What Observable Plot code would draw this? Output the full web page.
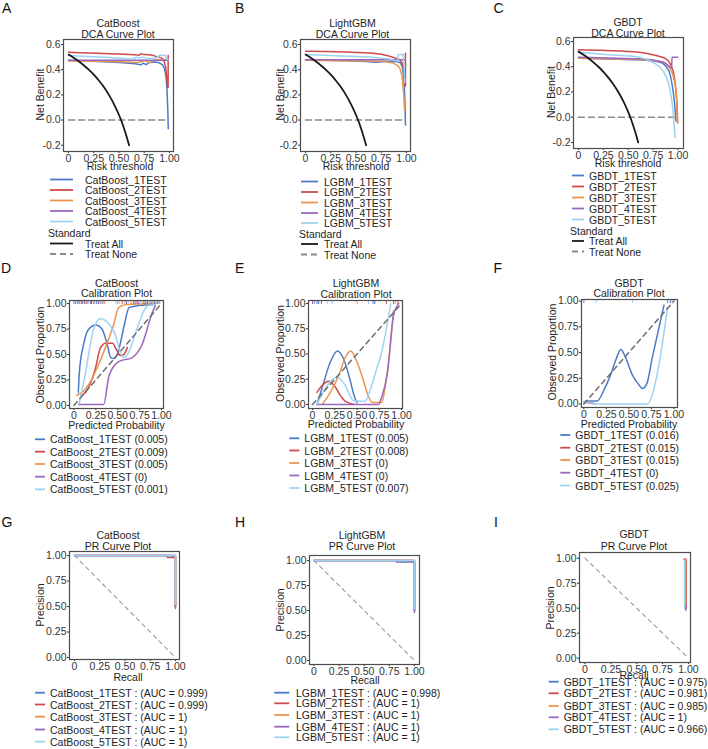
<!DOCTYPE html>
<html><head><meta charset="utf-8">
<script src="https://cdn.jsdelivr.net/npm/d3@7"></script>
<script src="https://cdn.jsdelivr.net/npm/@observablehq/plot@0.6"></script>
<style>
body{margin:0;background:#fff;}
#root{position:relative;width:708px;height:749px;overflow:hidden;background:#fff;font-family:"Liberation Sans",Arial,sans-serif;}
#root svg{position:absolute;}
</style></head><body><div id="root"></div>
<script>
// ---------- data ----------
const seriesColors = ["#4a7bc8", "#cf4b4b", "#eb9550", "#9a68c0", "#9dd3f2"];
const catNames = ["CatBoost_1TEST", "CatBoost_2TEST", "CatBoost_3TEST", "CatBoost_4TEST", "CatBoost_5TEST"];
const lgbmNames = ["LGBM_1TEST", "LGBM_2TEST", "LGBM_3TEST", "LGBM_4TEST", "LGBM_5TEST"];
const gbdtNames = ["GBDT_1TEST", "GBDT_2TEST", "GBDT_3TEST", "GBDT_4TEST", "GBDT_5TEST"];
const calCatVals = ["0.005", "0.009", "0.005", "0", "0.001"];
const calLgbmVals = ["0.005", "0.008", "0", "0", "0.007"];
const calGbdtVals = ["0.016", "0.015", "0.015", "0", "0.025"];
const prCatAuc = ["0.999", "0.999", "1", "1", "1"];
const prLgbmAuc = ["0.998", "1", "1", "1", "1"];
const prGbdtAuc = ["0.975", "0.981", "0.985", "1", "0.966"];

const xTickVals = [0, 0.25, 0.5, 0.75, 1];
const xTickLabels = ["0", "0.25", "0.50", "0.75", "1.00"];
const dcaYTicks = [-0.2, 0, 0.2, 0.4, 0.6];
const dcaYLabels = ["-0.2", "0.0", "0.2", "0.4", "0.6"];
const probYTicks = [0, 0.25, 0.5, 0.75, 1];
const probYLabels = ["0.00", "0.25", "0.50", "0.75", "1.00"];

const treatAll = [[0,0.52],[0.05,0.495],[0.1,0.467],[0.15,0.435],[0.2,0.4],[0.25,0.36],[0.3,0.314],[0.35,0.262],[0.4,0.2],[0.45,0.127],[0.5,0.04],[0.525,-0.01],[0.55,-0.067],[0.575,-0.13],[0.6,-0.2]];
const treatNone = [[0,0],[0.99,0]];

const dcaCatBoost = [
  [[0,0.475],[0.1,0.472],[0.2,0.47],[0.3,0.466],[0.4,0.462],[0.5,0.458],[0.6,0.452],[0.66,0.448],[0.7,0.442],[0.72,0.44],[0.74,0.452],[0.77,0.44],[0.8,0.458],[0.85,0.462],[0.9,0.455],[0.93,0.44],[0.95,0.41],[0.965,0.35],[0.975,0.25],[0.983,0.1],[0.988,-0.07]],
  [[0,0.538],[0.1,0.535],[0.2,0.532],[0.3,0.53],[0.4,0.527],[0.5,0.524],[0.6,0.52],[0.66,0.518],[0.7,0.515],[0.72,0.528],[0.75,0.52],[0.8,0.518],[0.85,0.51],[0.9,0.5],[0.93,0.49],[0.95,0.46],[0.965,0.41],[0.975,0.32],[0.982,0.26],[0.987,0.26],[0.987,0.515]],
  [[0,0.47],[0.2,0.468],[0.4,0.465],[0.6,0.462],[0.68,0.455],[0.72,0.465],[0.76,0.472],[0.8,0.455],[0.83,0.47],[0.87,0.478],[0.92,0.48],[0.987,0.48]],
  [[0,0.475],[0.987,0.475]],
  [[0,0.512],[0.2,0.505],[0.4,0.497],[0.6,0.488],[0.64,0.485],[0.67,0.5],[0.7,0.49],[0.73,0.5],[0.78,0.49],[0.85,0.49],[0.88,0.5],[0.9,0.515],[0.96,0.515],[0.965,0.49],[0.987,0.48]]
];
const dcaLightGBM = [
  [[0,0.48],[0.2,0.476],[0.4,0.472],[0.6,0.466],[0.7,0.46],[0.8,0.465],[0.9,0.465],[0.94,0.455],[0.96,0.42],[0.975,0.33],[0.985,0.15],[0.99,-0.04]],
  [[0,0.547],[0.2,0.545],[0.4,0.54],[0.64,0.533],[0.75,0.522],[0.835,0.507],[0.9,0.49],[0.934,0.48],[0.955,0.455],[0.967,0.43],[0.978,0.35],[0.985,0.27],[0.99,0.27],[0.99,0.53]],
  [[0,0.475],[0.3,0.472],[0.6,0.47],[0.77,0.467],[0.87,0.453],[0.91,0.435],[0.934,0.413],[0.957,0.347],[0.974,0.187],[0.982,0.08]],
  [[0,0.48],[0.99,0.48]],
  [[0,0.52],[0.3,0.51],[0.64,0.5],[0.83,0.485],[0.9,0.47],[0.915,0.47],[0.917,0.52],[0.967,0.52],[0.975,0.45],[0.983,0.3]]
];
const dcaGBDT = [
  [[0,0.468],[0.3,0.462],[0.61,0.455],[0.81,0.437],[0.896,0.384],[0.92,0.34],[0.94,0.26],[0.963,0.13],[0.98,-0.03]],
  [[0,0.534],[0.275,0.529],[0.61,0.516],[0.78,0.489],[0.88,0.463],[0.93,0.41],[0.963,0.317],[0.987,0.132],[0.997,-0.04]],
  [[0,0.468],[0.3,0.463],[0.61,0.458],[0.846,0.437],[0.93,0.37],[0.963,0.29],[0.987,0.13],[0.993,-0.05]],
  [[0,0.476],[0.3,0.47],[0.61,0.463],[0.846,0.437],[0.923,0.397],[0.935,0.39],[0.94,0.476],[0.997,0.476]],
  [[0,0.516],[0.275,0.497],[0.61,0.476],[0.745,0.437],[0.846,0.37],[0.913,0.238],[0.946,0.08],[0.97,-0.16]]
];

const calCatBoost = [
  [[0.05,0.13],[0.06,0.31],[0.11,0.6],[0.17,0.75],[0.25,0.79],[0.32,0.75],[0.38,0.6],[0.42,0.47],[0.455,0.46],[0.51,0.54],[0.57,0.77],[0.63,0.96],[0.74,0.98],[0.93,0.99]],
  [[0.086,0.09],[0.17,0.18],[0.25,0.38],[0.3,0.56],[0.36,0.61],[0.44,0.61],[0.49,0.54],[0.53,0.49],[0.57,0.5],[0.61,0.57]],
  [[0.03,0.1],[0.12,0.15],[0.2,0.25],[0.28,0.4],[0.36,0.57],[0.455,0.8],[0.51,0.96],[0.6,0.99],[0.93,1.0]],
  [[0.055,0.01],[0.2,0.01],[0.34,0.01],[0.4,0.29],[0.51,0.43],[0.665,0.47],[0.78,0.6],[0.89,0.9],[0.93,0.98]],
  [[0.06,0.02],[0.13,0.31],[0.21,0.7],[0.3,0.85],[0.4,0.8],[0.47,0.7],[0.53,0.52],[0.57,0.47],[0.63,0.53],[0.7,0.7],[0.8,0.93],[0.85,0.98],[0.93,0.99]]
];
const calLightGBM = [
  [[0.05,0.0],[0.12,0.2],[0.2,0.42],[0.28,0.53],[0.35,0.45],[0.42,0.25],[0.47,0.08],[0.5,0.02]],
  [[0.05,0.12],[0.1,0.18],[0.18,0.23],[0.25,0.18],[0.32,0.08],[0.37,0.03],[0.47,0.0]],
  [[0.11,0.0],[0.2,0.12],[0.3,0.3],[0.37,0.47],[0.43,0.53],[0.5,0.42],[0.56,0.27],[0.62,0.1],[0.67,0.02],[0.78,0.02],[0.82,0.2],[0.86,0.47],[0.91,0.93]],
  [[0.05,0.0],[0.74,0.0],[0.78,0.08],[0.84,0.3],[0.91,0.88],[0.97,1.0]],
  [[0.05,0.0],[0.15,0.17],[0.28,0.27],[0.36,0.2],[0.46,0.04],[0.59,0.03],[0.65,0.15],[0.72,0.35],[0.78,0.53],[0.83,0.75],[0.88,1.0]]
];
const calGBDT = [
  [[0.02,0.03],[0.15,0.03],[0.22,0.13],[0.3,0.29],[0.36,0.44],[0.41,0.53],[0.46,0.46],[0.54,0.28],[0.6,0.2],[0.65,0.15],[0.7,0.2],[0.76,0.45],[0.89,0.96]],
  [[0.02,0.02],[0.1,0.01]],
  [[0.02,0.02],[0.1,0.01]],
  [[0.0,0.02],[0.13,0.0]],
  [[0.0,0.03],[0.1,0.005],[0.2,0.0],[0.71,0.0],[0.77,0.12],[0.83,0.36],[0.93,0.94]]
];

const rugCatBoost = [
  [0.1,0.2,0.26,0.33,0.6,0.68,0.8,0.88,0.92],
  [0.14,0.3,0.55,0.72,0.84,0.9,0.95],
  [0.08,0.22,0.35,0.5,0.58,0.65,0.78,0.86,0.94],
  [0.0,0.02,0.04,0.06,0.09,0.12,0.16,0.19,0.23,0.28,0.7,0.74,0.82,0.96,0.98],
  [0.05,0.17,0.24,0.31,0.48,0.52,0.62,0.76,0.9,0.97]
];
const rugLightGBM = [
  [0.05,0.07,0.1,0.68,0.7],
  [0.83,0.96],
  [0.5,0.93],
  [0.0,0.02,0.91],
  [0.165,0.22,0.63]
];
const rugGBDT = [
  [0.96],
  [],
  [],
  [0.0,0.93,0.99],
  [0.14,0.54,0.98]
];

const prCatBoost = [
  [[0,1],[0.97,1],[0.97,0.985],[1,0.985],[1,0.5]],
  [[0,1],[0.92,1],[0.92,0.982],[1,0.982],[1,0.5]],
  [[0,1],[1,1],[1,0.5]],
  [[0,1],[1,1],[1,0.48]],
  [[0,1],[1,1],[1,0.52]]
];
const prLightGBM = [
  [[0,1],[0.82,1],[0.82,0.985],[1,0.985],[1,0.5]],
  [[0,1],[0.98,1],[0.98,0.99],[1,0.99],[1,0.5]],
  [[0,1],[1,1],[1,0.5]],
  [[0,1],[1,1],[1,0.48]],
  [[0,1],[1,1],[1,0.52]]
];
const prGBDT = [
  [[0.965,0.99],[0.965,0.5]],
  [[0.955,0.99],[0.978,0.99],[0.978,0.5]],
  [[0.96,0.985],[0.972,0.985],[0.972,0.49]],
  [[0.975,0.52],[0.975,0.48]],
  [[0.962,0.98],[0.962,0.5]]
];
const prDiagonal = [[0,1],[1,0]];
const calDiagonal = [[0,0],[1,1]];

// ---------- drawing ----------
const root = document.getElementById("root");
const FONT = "Liberation Sans, Arial, Helvetica, sans-serif";

function panel(box, xDomain, yDomain, yTicks, yLabels, marks) {
  const [l, t, r, b] = box;
  const mL = 30, mR = 4, mT = 4, mB = 18;
  const xFmt = new Map(xTickVals.map((v, i) => [v, xTickLabels[i]]));
  const yFmt = new Map(yTicks.map((v, i) => [v, yLabels[i]]));
  const svg = Plot.plot({
    width: (r - l) + mL + mR, height: (b - t) + mT + mB,
    marginLeft: mL, marginRight: mR, marginTop: mT, marginBottom: mB,
    style: {background: "transparent", fontFamily: FONT, fontSize: "10.5px", color: "#333", overflow: "visible"},
    x: {domain: xDomain, ticks: xTickVals, tickFormat: d => xFmt.get(d), tickSize: 2, tickPadding: 1, label: null},
    y: {domain: yDomain, ticks: yTicks, tickFormat: d => yFmt.get(d), tickSize: 2, tickPadding: 1, label: null},
    marks: [...marks, Plot.frame({stroke: "#4d4d4d", strokeWidth: 1.2})]
  });
  svg.style.left = (l - mL) + "px";
  svg.style.top = (t - mT) + "px";
  root.append(svg);
}

function seriesLines(list, curve) {
  return list.map((s, i) => Plot.line(s, {x: d => d[0], y: d => d[1], stroke: seriesColors[i], strokeWidth: 1.5, curve: curve, clip: true}));
}
function rugMarks(list, h) {
  return list.map((s, i) => Plot.ruleX(s, {x: d => d, stroke: seriesColors[i], strokeWidth: 1, insetBottom: h - 4}));
}

function dcaPanel(box, xDomain, yDomain, data, curve) {
  panel(box, xDomain, yDomain, dcaYTicks, dcaYLabels, [
    Plot.line(treatNone, {x: d => d[0], y: d => d[1], stroke: "#8a8a8a", strokeWidth: 1.5, strokeDasharray: "6,4"}),
    ...seriesLines(data, curve),
    Plot.line(treatAll, {x: d => d[0], y: d => d[1], stroke: "#1a1a1a", strokeWidth: 1.8, curve: "monotone-x", clip: true})
  ]);
}
function calPanel(box, xDomain, yDomain, data, rug) {
  panel(box, xDomain, yDomain, probYTicks, probYLabels, [
    ...seriesLines(data, "monotone-x"),
    Plot.line(calDiagonal, {x: d => d[0], y: d => d[1], stroke: "#6e6e6e", strokeWidth: 1.5, strokeDasharray: "5,4"}),
    ...rugMarks(rug, box[3] - box[1])
  ]);
}
function prPanel(box, xDomain, yDomain, data) {
  panel(box, xDomain, yDomain, probYTicks, probYLabels, [
    Plot.line(prDiagonal, {x: d => d[0], y: d => d[1], stroke: "#9a9a9a", strokeWidth: 1.1, strokeDasharray: "4,4"}),
    ...seriesLines(data, "linear")
  ]);
}

dcaPanel([63, 39, 173, 151], [-0.05, 1.04], [-0.25, 0.64], dcaCatBoost, "linear");
dcaPanel([300, 39, 410, 151], [-0.05, 1.04], [-0.25, 0.64], dcaLightGBM, "linear");
dcaPanel([573, 37, 683, 148], [-0.05, 1.055], [-0.248, 0.632], dcaGBDT, "monotone-x");
calPanel([69, 300, 163, 408], [-0.051, 1.023], [-0.03, 1.03], calCatBoost, rugCatBoost);
calPanel([308, 300, 402, 408], [-0.045, 1.011], [-0.04, 1.03], calLightGBM, rugLightGBM);
calPanel([581, 299, 677, 407], [-0.026, 1.04], [-0.034, 1.015], calGBDT, rugGBDT);
prPanel([69, 551, 179, 659], [-0.05, 1.04], [-0.02, 1.04], prCatBoost);
prPanel([309, 555, 419, 664], [-0.044, 1.05], [-0.04, 1.05], prLightGBM);
prPanel([579, 552, 690, 662], [-0.053, 1.02], [-0.043, 1.057], prGBDT);

// ---------- text overlay ----------
const ov = d3.select(root).append("svg").attr("width", 708).attr("height", 749)
  .style("left", "0px").style("top", "0px").style("pointer-events", "none")
  .attr("font-family", FONT);

function txt(x, y, s, o = {}) {
  const t = ov.append("text").attr("x", x).attr("y", y)
    .attr("dominant-baseline", "central")
    .attr("text-anchor", o.anchor || "start")
    .attr("font-size", o.size || 10.5)
    .attr("fill", o.fill || "#1e1e1e").text(s);
  if (o.rotate) t.attr("transform", `rotate(-90,${x},${y})`);
}
function swatch(x1, x2, y, color, dash) {
  const l = ov.append("line").attr("x1", x1).attr("x2", x2).attr("y1", y).attr("y2", y)
    .attr("stroke", color).attr("stroke-width", 1.8);
  if (dash) l.attr("stroke-dasharray", dash);
}

// panel letters
[["A", 2, 8], ["B", 235, 8], ["C", 493.5, 8], ["D", 1, 268], ["E", 235, 268], ["F", 493.5, 268],
 ["G", 1.5, 522], ["H", 235, 522], ["I", 494, 522]].forEach(([s, x, y]) => txt(x, y, s, {size: 14, fill: "#111"}));

// titles
const titles = [
  ["CatBoost", "DCA Curve Plot", 118, 23, 33.5],
  ["LightGBM", "DCA Curve Plot", 352.5, 23, 33.5],
  ["GBDT", "DCA Curve Plot", 628, 22, 32.5],
  ["CatBoost", "Calibration Plot", 116.5, 283, 293],
  ["LightGBM", "Calibration Plot", 356, 283, 293.5],
  ["GBDT", "Calibration Plot", 629, 283, 293],
  ["CatBoost", "PR Curve Plot", 118, 535, 545.5],
  ["LightGBM", "PR Curve Plot", 362, 535, 546],
  ["GBDT", "PR Curve Plot", 634, 534, 546]
];
titles.forEach(([a, b, x, y1, y2]) => { txt(x, y1, a, {anchor: "middle"}); txt(x, y2, b, {anchor: "middle"}); });

// axis titles
[["Risk threshold", 120, 165.5], ["Risk threshold", 356, 165.5], ["Risk threshold", 628, 163],
 ["Predicted Probability", 116.5, 425], ["Predicted Probability", 356, 423.5], ["Predicted Probability", 629, 423.5],
 ["Recall", 128, 676.5], ["Recall", 365, 679.5], ["Recall", 634, 675]]
  .forEach(([s, x, y]) => txt(x, y, s, {anchor: "middle"}));
[["Net Benefit", 39.5, 94.5], ["Net Benefit", 279.5, 94.5], ["Net Benefit", 551, 92],
 ["Observed Proportion", 39.5, 355], ["Observed Proportion", 279.5, 353.5], ["Observed Proportion", 551.5, 352],
 ["Precision", 39.5, 605], ["Precision", 279.5, 610], ["Precision", 550, 608]]
  .forEach(([s, x, y]) => txt(x, y, s, {anchor: "middle", rotate: true}));

// legends
function legend(names, labels, x1, x2, tx, rows) {
  names.forEach((n, i) => { swatch(x1, x2, rows[i], seriesColors[i]); txt(tx, rows[i], labels[i]); });
}
function stdLegend(sx, x1, x2, tx, ys) {
  txt(sx, ys[0], "Standard");
  swatch(x1, x2, ys[1], "#1a1a1a"); txt(tx, ys[1], "Treat All");
  swatch(x1, x2, ys[2], "#8a8a8a", "6,4"); txt(tx, ys[2], "Treat None");
}
legend(catNames, catNames, 50, 73, 85, [179.5, 190, 200.5, 211, 221.5]);
stdLegend(48, 50, 73, 85, [233, 243.5, 254]);
legend(lgbmNames, lgbmNames, 301, 318, 324, [181.5, 192, 202.5, 213, 223]);
stdLegend(299, 301, 318, 324, [233.5, 244, 254.5]);
legend(gbdtNames, gbdtNames, 572, 584, 589, [175.5, 186.5, 197.5, 208.5, 219.5]);
stdLegend(570, 572, 584, 589, [230.5, 241, 251.5]);

legend(catNames, catNames.map((n, i) => `${n} (${calCatVals[i]})`), 35, 45, 50, [439.3, 451.7, 464, 476.7, 489.3]);
legend(lgbmNames, lgbmNames.map((n, i) => `${n} (${calLgbmVals[i]})`), 289.3, 299.3, 304.3, [438.3, 450.5, 463, 475.5, 488]);
legend(gbdtNames, gbdtNames.map((n, i) => `${n} (${calGbdtVals[i]})`), 560.3, 570.3, 575.3, [435, 447.7, 460, 472.7, 485.5]);

legend(catNames, catNames.map((n, i) => `${n} : (AUC = ${prCatAuc[i]})`), 35, 45, 50, [692.7, 704.5, 716.7, 729.5, 741.7]);
legend(lgbmNames, lgbmNames.map((n, i) => `${n} : (AUC = ${prLgbmAuc[i]})`), 274.3, 289.3, 296, [692.7, 703.3, 715, 726.7, 737.3]);
legend(gbdtNames, gbdtNames.map((n, i) => `${n} : (AUC = ${prGbdtAuc[i]})`), 548.7, 558.7, 563.7, [681.7, 693.3, 706, 717.3, 729.3]);
</script></body></html>
